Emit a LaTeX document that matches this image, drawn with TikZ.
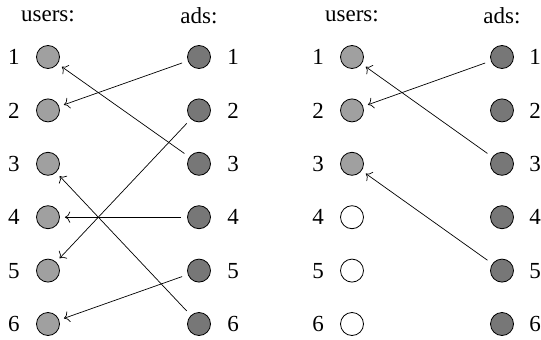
\documentclass[tikz,border=0pt]{standalone}
\usepackage{fontspec}
\setmainfont{Liberation Serif}
\usetikzlibrary{arrows.meta}
\definecolor{userfill}{HTML}{A0A0A0}
\definecolor{adfill}{HTML}{777777}
\begin{document}
\begin{tikzpicture}[x=1pt,y=-1pt,
  every node/.style={font=\fontsize{23}{27}\selectfont},
  dot/.style={circle,draw,line width=0.8pt,minimum size=23pt,inner sep=0pt},
  user/.style={dot,fill=userfill},
  freeuser/.style={dot,fill=white},
  ad/.style={dot,fill=adfill},
  num/.style={inner sep=0pt},
  hdr/.style={inner sep=0pt},
  link/.style={-{To[scale=1.7]},line width=0.7pt,shorten >=5pt,shorten <=6pt}]
\useasboundingbox (0,0) rectangle (541,340);
% headers
\node[hdr] (hu1) at (48,16) {users:};
\node[hdr] (ha1) at (199,16) {ads:};
\node[hdr] (hu2) at (352,16) {users:};
\node[hdr] (ha2) at (502,16) {ads:};
% left panel
\foreach \i in {1,...,6}{
  \pgfmathsetmacro{\yy}{57+53.4*(\i-1)}
  \node[user] (Lu\i) at (48,\yy) {};
  \node[ad] (La\i) at (199,\yy) {};
  \node[num] (Lun\i) at (14,\yy) {\i};
  \node[num] (Lan\i) at (233,\yy) {\i};
}
% right panel
\foreach \i in {1,...,6}{
  \pgfmathsetmacro{\yy}{57+53.4*(\i-1)}
  \node[ad] (Ra\i) at (502,\yy) {};
  \node[num] (Run\i) at (318,\yy) {\i};
  \node[num] (Ran\i) at (535,\yy) {\i};
}
\foreach \i in {1,2,3}{
  \pgfmathsetmacro{\yy}{57+53.4*(\i-1)}
  \node[user] (Ru\i) at (352,\yy) {};
}
\foreach \i in {4,5,6}{
  \pgfmathsetmacro{\yy}{57+53.4*(\i-1)}
  \node[freeuser] (Ru\i) at (352,\yy) {};
}
% left links
\draw[link] (La1) -- (Lu2);
\draw[link] (La3) -- (Lu1);
\draw[link] (La2) -- (Lu5);
\draw[link] (La6) -- (Lu3);
\draw[link] (La4) -- (Lu4);
\draw[link] (La5) -- (Lu6);
% right links
\draw[link] (Ra1) -- (Ru2);
\draw[link] (Ra3) -- (Ru1);
\draw[link] (Ra5) -- (Ru3);
\end{tikzpicture}
\end{document}
